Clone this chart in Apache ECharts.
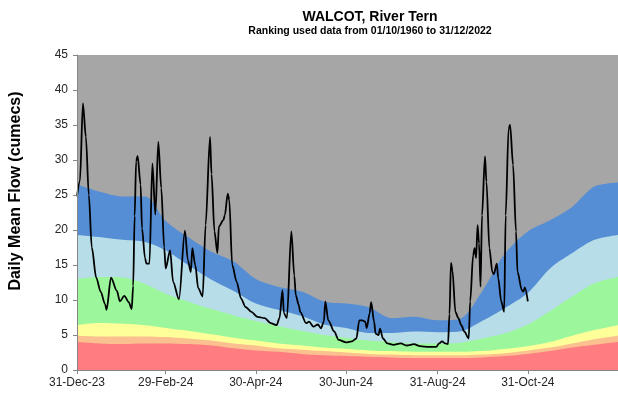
<!DOCTYPE html>
<html><head><meta charset="utf-8">
<script src="https://cdn.jsdelivr.net/npm/echarts@6/dist/echarts.min.js"></script>
<style>html,body{margin:0;padding:0;background:#fff}#c{width:618px;height:399px}</style>
</head><body><div id="c"></div>
<script>
// x values are days after 31-Dec-23
const tickDays = [0, 60, 121, 182, 244, 305];
const tickLabels = ['31-Dec-23', '29-Feb-24', '30-Apr-24', '30-Jun-24', '31-Aug-24', '31-Oct-24'];
const yTicks = [0, 5, 10, 15, 20, 25, 30, 35, 40, 45];

// band sample days and upper limits of each ranking band
const bandDays      = [0, 15, 31, 46, 60, 75, 91, 106, 121, 136, 152, 167, 182, 197, 213, 228, 244, 259, 274, 289, 305, 320, 335, 350, 366];
const notHighTop    = [26.5, 25.5, 24.8, 24.8, 21.3, 19.0, 16.9, 15.5, 13.0, 11.9, 11.2, 9.8, 9.5, 9.0, 7.4, 7.6, 7.1, 7.3, 11.2, 16.5, 19.8, 21.4, 23.3, 26.2, 26.8];
const aboveNormTop  = [19.3, 19.0, 18.6, 18.3, 17.1, 15.0, 12.9, 11.3, 9.5, 8.6, 7.7, 6.5, 6.0, 5.3, 5.3, 5.5, 5.4, 5.5, 7.0, 8.8, 11.0, 14.5, 16.7, 18.6, 19.3];
const normalTop     = [13.0, 13.3, 13.2, 12.3, 10.9, 9.8, 8.7, 7.8, 7.0, 6.3, 5.6, 5.0, 4.6, 4.2, 4.0, 3.8, 3.8, 3.9, 4.5, 5.2, 6.5, 8.4, 10.5, 12.4, 13.3];
const belowNormTop  = [6.4, 6.7, 6.6, 6.4, 6.0, 5.6, 5.1, 4.6, 4.2, 3.8, 3.5, 3.2, 3.0, 2.8, 2.7, 2.6, 2.6, 2.6, 2.7, 3.0, 3.4, 4.0, 4.9, 5.7, 6.4];
const notLowTop     = [4.9, 4.8, 4.8, 4.8, 4.7, 4.5, 4.2, 3.8, 3.5, 3.1, 2.9, 2.7, 2.5, 2.3, 2.2, 2.1, 2.1, 2.1, 2.2, 2.4, 2.8, 3.2, 3.8, 4.4, 4.9];
const exLowTop      = [4.0, 3.8, 3.7, 3.8, 3.8, 3.7, 3.5, 3.1, 2.8, 2.6, 2.3, 2.1, 2.0, 1.9, 1.8, 1.7, 1.7, 1.7, 1.8, 2.0, 2.3, 2.7, 3.2, 3.6, 4.0];

// daily mean flow readings
const flowDays = [0, 2, 4, 6, 8, 10, 13, 16, 19, 20, 23, 27, 29, 32, 35, 37, 38, 39, 40, 41, 43, 44, 46, 47, 49, 51, 53, 55, 57, 59, 60, 63, 65, 69, 73, 75, 77, 78, 80, 82, 85, 87, 90, 91, 93, 95, 96, 99, 100, 102, 103, 105, 108, 111, 114, 118, 122, 127, 131, 135, 137, 139, 140, 142, 145, 147, 148, 150, 151, 155, 157, 160, 163, 165, 167, 168, 170, 174, 177, 182, 186, 189, 191, 193, 195, 196, 198, 199, 201, 202, 204, 205, 207, 210, 214, 219, 223, 228, 232, 238, 243, 245, 247, 249, 251, 252, 253, 254, 256, 258, 260, 262, 265, 266, 268, 269, 270, 271, 272, 273, 274, 276, 277, 279, 281, 282, 284, 285, 287, 289, 290, 292, 293, 295, 297, 298, 301, 302, 303, 305];
const flowValues = [24.8, 27.0, 38.1, 33.3, 25.0, 17.5, 13.2, 11.2, 9.4, 8.6, 13.2, 11.3, 9.8, 10.6, 9.7, 8.7, 12.0, 22.0, 29.8, 30.6, 26.5, 20.2, 16.0, 15.2, 15.2, 29.5, 22.2, 32.6, 26.0, 17.5, 14.5, 17.1, 12.6, 10.1, 19.9, 15.7, 14.0, 17.4, 15.0, 11.7, 10.5, 20.7, 33.3, 28.0, 19.8, 16.7, 20.5, 21.4, 22.1, 25.2, 24.3, 15.0, 12.6, 10.2, 9.0, 8.3, 7.6, 7.4, 6.7, 6.4, 7.4, 11.4, 8.1, 7.4, 19.8, 13.5, 10.7, 9.3, 8.3, 6.7, 6.9, 6.2, 6.5, 5.95, 6.9, 9.8, 7.1, 5.5, 4.3, 3.95, 4.1, 4.5, 7.1, 7.1, 6.9, 6.0, 8.1, 9.7, 6.9, 5.2, 5.0, 5.9, 4.5, 3.8, 3.6, 3.8, 3.5, 3.7, 3.4, 3.3, 3.3, 3.8, 4.1, 3.8, 3.7, 8.0, 15.3, 14.2, 8.3, 7.4, 6.4, 5.5, 4.5, 9.8, 16.4, 17.4, 16.0, 20.7, 18.1, 11.9, 22.1, 30.5, 26.9, 17.4, 14.0, 13.7, 15.2, 13.1, 9.8, 8.3, 22.1, 34.5, 35.0, 29.3, 19.8, 14.0, 11.4, 11.2, 11.8, 9.8];

const pair = (xs, ys) => xs.map((x, i) => [x, ys[i]]);

function band(name, ys, color) {
  return {
    name, type: 'line', data: pair(bandDays, ys), showSymbol: false, smooth: 0.3,
    lineStyle: { width: 0 }, areaStyle: { color: color, opacity: 1 }, itemStyle: { color: color },
    silent: true, animation: false
  };
}

const chart = echarts.init(document.getElementById('c'), null, { renderer: 'canvas' });
chart.setOption({
  animation: false,
  backgroundColor: '#ffffff',
  title: {
    text: 'WALCOT, River Tern',
    subtext: 'Ranking used data from 01/10/1960 to 31/12/2022',
    left: 365, top: 5, textAlign: 'center', itemGap: 2,
    textStyle: { fontFamily: 'Liberation Sans, Arial', fontWeight: 'bold', fontSize: 14, color: '#000' },
    subtextStyle: { fontFamily: 'Liberation Sans, Arial', fontWeight: 'bold', fontSize: 10.5, color: '#000' }
  },
  grid: { left: 77, top: 55, width: 543.5, height: 315, show: true, backgroundColor: '#a6a6a6', borderWidth: 0 },
  xAxis: {
    type: 'value', min: 0, max: 366, z: 10,
    axisLine: { show: true, onZero: false, lineStyle: { color: '#868686', width: 1 } },
    axisTick: { show: true, length: 4, customValues: tickDays, lineStyle: { color: '#868686' } },
    axisLabel: {
      customValues: tickDays, margin: 7, fontFamily: 'Liberation Sans, Arial', fontSize: 12, color: '#262626',
      formatter: v => tickLabels[tickDays.indexOf(v)] || ''
    },
    splitLine: { show: false }
  },
  yAxis: {
    type: 'value', min: yTicks[0], max: yTicks[yTicks.length - 1], interval: 5, z: 10,
    axisLine: { show: true, lineStyle: { color: '#868686', width: 1 } },
    axisTick: { show: true, length: 4, lineStyle: { color: '#868686' } },
    axisLabel: { margin: 9, fontFamily: 'Liberation Sans, Arial', fontSize: 12, color: '#262626' },
    splitLine: { show: false }
  },
  graphic: [{
    type: 'text', x: 16, y: 191, rotation: Math.PI / 2,
    style: { text: 'Daily Mean Flow (cumecs)', fill: '#000', font: 'bold 16px "Liberation Sans", Arial', align: 'center', verticalAlign: 'middle' }
  }],
  series: [
    band('Notably high', notHighTop, '#558ed5'),
    band('Above normal', aboveNormTop, '#b7dee8'),
    band('Normal', normalTop, '#9cf79c'),
    band('Below normal', belowNormTop, '#ffff99'),
    band('Notably low', notLowTop, '#fac090'),
    band('Exceptionally low', exLowTop, '#ff7c80'),
    {
      name: 'Flow', type: 'line', data: pair(flowDays, flowValues), showSymbol: false,
      smooth: 0.3, smoothMonotone: 'x', z: 5,
      lineStyle: { color: '#000', width: 1.8 }, itemStyle: { color: '#000' }, animation: false
    }
  ]
});
</script></body></html>
